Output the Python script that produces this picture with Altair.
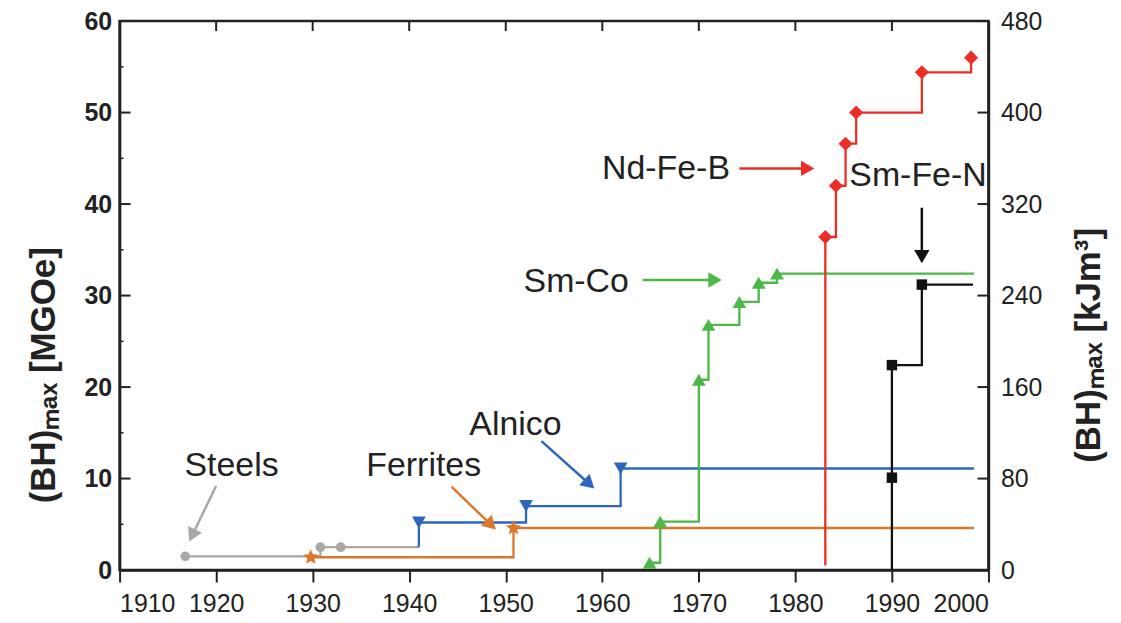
import math
import altair as alt
import pandas as pd

# ---------------- data ----------------
series = ["Steels", "Ferrites", "Alnico", "Sm-Co", "Nd-Fe-B", "Sm-Fe-N"]

steels_year = [1916.8, 1930.8, 1932.9]
steels_val = [1.5, 2.5, 2.5]
ferrites_year = [1929.8, 1950.8]
ferrites_val = [1.4, 4.6]
alnico_year = [1941.0, 1952.1, 1961.9]
alnico_val = [5.2, 7.0, 11.1]
smco_year = [1964.9, 1966.0, 1970.0, 1971.0, 1974.2, 1976.2, 1978.1]
smco_val = [0.8, 5.3, 20.8, 26.8, 29.3, 31.4, 32.4]
ndfeb_year = [1983.1, 1984.2, 1985.2, 1986.3, 1993.1, 1998.2]
ndfeb_val = [36.4, 42.0, 46.6, 50.0, 54.4, 56.0]
smfen_year = [1990.0, 1990.0, 1993.1]
smfen_val = [10.1, 22.4, 31.2]

# unmarked start / end points of each step line
line_start_year = [None, None, 1941.0, None, 1983.1, 1990.0]
line_start_val = [None, None, 2.5, None, 0.5, 0.0]
line_end_year = [1941.0, 1998.5, 1998.5, 1998.5, None, 1998.4]
line_end_val = [2.5, 4.6, 11.1, 32.4, None, 31.2]

colors = ["#a8a8a8", "#d9782d", "#2f66bd", "#4cb847", "#ec2f26", "#111111"]

# annotations
ann_text = ["Steels", "Ferrites", "Alnico", "Sm-Co", "Nd-Fe-B", "Sm-Fe-N"]
ann_year = [1921.6, 1941.5, 1951.0, 1957.3, 1966.6, 1992.7]
ann_val = [11.4, 11.4, 15.8, 31.5, 43.8, 43.1]
arr_year1 = [1920.0, 1944.4, 1953.7, 1964.2, 1974.2, 1993.1]
arr_val1 = [9.2, 9.1, 14.1, 31.7, 43.9, 39.6]
arr_year2 = [1917.2, 1949.0, 1959.2, 1972.4, 1982.0, 1993.1]
arr_val2 = [3.1, 4.4, 8.9, 31.7, 43.9, 33.5]

x_ticks = list(range(1910, 2001, 10))
y_ticks = list(range(0, 61, 10))
y_minor = list(range(5, 60, 10))
right_ticks = list(range(0, 481, 80))

W, H = 872, 551
XD = [1910, 2000]
YD = [0, 60]

# ---------------- build tables ----------------
year_lists = [steels_year, ferrites_year, alnico_year, smco_year, ndfeb_year, smfen_year]
val_lists = [steels_val, ferrites_val, alnico_val, smco_val, ndfeb_val, smfen_val]

# star symbol path
pts = []
for j in range(10):
    a = math.radians(-90 + j * 36)
    r = 1.0 if j % 2 == 0 else 0.45
    pts.append(f"{r*math.cos(a):.3f},{r*math.sin(a):.3f}")
star = "M" + " L".join(pts) + " Z"
shapes = ["circle", star, "triangle-down", "triangle-up", "diamond", "square"]
sizes = [95, 260, 190, 190, 200, 110]

line_rows, pt_rows = [], []
for i, s in enumerate(series):
    k = 0
    if line_start_year[i] is not None:
        line_rows.append(dict(series=s, year=line_start_year[i], value=line_start_val[i], idx=k)); k += 1
    for yr, v in zip(year_lists[i], val_lists[i]):
        line_rows.append(dict(series=s, year=yr, value=v, idx=k)); k += 1
        pt_rows.append(dict(series=s, year=yr, value=v, msize=sizes[i], mshape=shapes[i]))
    if line_end_year[i] is not None:
        line_rows.append(dict(series=s, year=line_end_year[i], value=line_end_val[i], idx=k)); k += 1
line_df = pd.DataFrame(line_rows)
pt_df = pd.DataFrame(pt_rows)

pxx = W / (XD[1] - XD[0])
pxy = H / (YD[1] - YD[0])
arr_rows, head_rows = [], []
for i in range(len(ann_text)):
    dx = (arr_year2[i] - arr_year1[i]) * pxx
    dy = -(arr_val2[i] - arr_val1[i]) * pxy
    L = math.hypot(dx, dy)
    ux, uy = dx / L, dy / L
    back = 7
    hx = arr_year2[i] - ux * back / pxx
    hy = arr_val2[i] + uy * back / pxy
    ang = math.degrees(math.atan2(dx, -dy)) % 360
    arr_rows.append(dict(year=arr_year1[i], value=arr_val1[i], year2=hx, value2=hy, color=colors[i]))
    head_rows.append(dict(year=hx, value=hy, angle=ang, color=colors[i]))
arr_df = pd.DataFrame(arr_rows)
head_df = pd.DataFrame(head_rows)
ann_df = pd.DataFrame(dict(text=ann_text, year=ann_year, value=ann_val))

# ---------------- encodings ----------------
FONT = "Liberation Sans"
x_enc = alt.X("year:Q", scale=alt.Scale(domain=XD, nice=False, zero=False),
              axis=alt.Axis(values=x_ticks, format="d", title=None, tickSize=12,
                            labelPadding=10, labelFontWeight="normal"))
y_enc = alt.Y("value:Q", scale=alt.Scale(domain=YD, nice=False),
              axis=alt.Axis(values=y_ticks, ticks=False, labelPadding=8, labelFontWeight="bold",
                            title="(BH)ₘₐₓ [MGOe]", titleFont=FONT, titleFontSize=35,
                            titleFontWeight="bold", titleAngle=270, titleX=-76, titleY=355,
                            titleAlign="center", titleBaseline="middle", titleColor="#222"))
col = alt.Color("series:N", scale=alt.Scale(domain=series, range=colors), legend=None)

lines = alt.Chart(line_df).mark_line(interpolate="step-after", strokeWidth=2.3).encode(
    x=x_enc, y=y_enc, color=col, detail="series:N", order="idx:Q")
points = alt.Chart(pt_df).mark_point(filled=True, opacity=1, strokeWidth=0).encode(
    x=x_enc, y=y_enc, color=col,
    shape=alt.Shape("mshape:N", scale=None),
    size=alt.Size("msize:Q", scale=None))

arrows = alt.Chart(arr_df).mark_rule(strokeWidth=2.5).encode(
    x=x_enc, y=y_enc, x2="year2:Q", y2="value2:Q", color=alt.Color("color:N", scale=None))
heads = alt.Chart(head_df).mark_point(shape="triangle-up", filled=True, size=240, opacity=1).encode(
    x=x_enc, y=y_enc, angle=alt.Angle("angle:Q", scale=None), color=alt.Color("color:N", scale=None))
texts = alt.Chart(ann_df).mark_text(font=FONT, fontSize=34, color="#222", align="center",
                                    baseline="middle").encode(x=x_enc, y=y_enc, text="text:N")

lt_df = pd.DataFrame(dict(value=y_ticks))
lm_df = pd.DataFrame(dict(value=y_minor))
tt_df = pd.DataFrame(dict(year=x_ticks[1:-1]))
lticks = alt.Chart(lt_df).mark_rule(color="#222", strokeWidth=2).encode(
    y=y_enc, x=alt.value(0), x2=alt.value(11))
mticks = alt.Chart(lm_df).mark_rule(color="#222", strokeWidth=1.5).encode(
    y=y_enc, x=alt.value(0), x2=alt.value(4))
tticks = alt.Chart(tt_df).mark_rule(color="#222", strokeWidth=2).encode(
    x=x_enc, y=alt.value(0), y2=alt.value(10))

main = alt.layer(lines, arrows, heads, points, texts, lticks, mticks, tticks)

rt_df = pd.DataFrame(dict(kj=right_ticks))
right = alt.Chart(rt_df).mark_rule(color="#222", strokeWidth=2).encode(
    y=alt.Y("kj:Q", scale=alt.Scale(domain=[0, 480], nice=False),
            axis=alt.Axis(orient="right", values=right_ticks, ticks=False, labelPadding=12,
                          title="(BH)ₘₐₓ [kJm³]", titleFont=FONT, titleFontSize=35,
                          titleFontWeight="bold", titleAngle=270, titleX=100, titleY=325,
                          titleAlign="center", titleBaseline="middle", titleColor="#222")),
    x=alt.value(W - 11), x2=alt.value(W))

chart = alt.layer(main, right).resolve_scale(y="independent").properties(
    width=W, height=H,
    autosize=alt.AutoSizeParams(type="none"),
    padding={"left": 112, "top": 12, "right": 125, "bottom": 50},
    background="white",
).configure_view(stroke="#222", strokeWidth=2.5).configure_axis(
    grid=False, domainColor="#222", domainWidth=2.5, tickColor="#222", tickWidth=2,
    labelFont=FONT, labelFontSize=25, labelColor="#222")

chart.save("out.html", embed_options={"renderer": "svg", "actions": False})
